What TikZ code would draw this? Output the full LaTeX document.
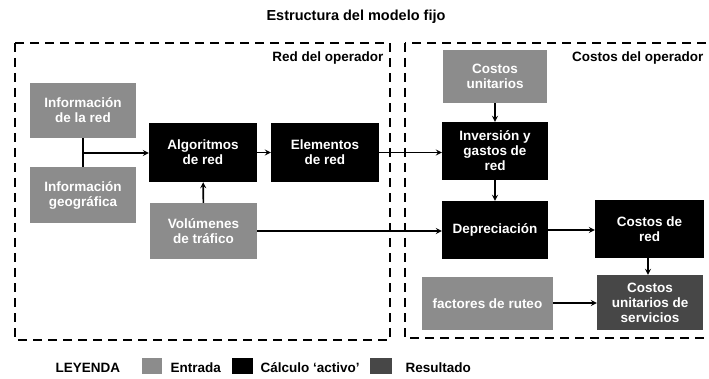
\documentclass[tikz,border=0pt]{standalone}
\usepackage{fontspec}
\setmainfont{Liberation Sans}
\tikzset{>=stealth}
\usetikzlibrary{positioning}
\colorlet{inputColor}{black!45}
\colorlet{resultColor}{black!72}
\colorlet{calcColor}{black}
\tikzset{
  inbox/.style={fill=inputColor,text=white,align=center,inner sep=0pt},
  calcbox/.style={fill=calcColor,text=white,align=center,inner sep=0pt},
  resbox/.style={fill=resultColor,text=white,align=center,inner sep=0pt},
  flow/.style={->,line width=1.6pt},
  zone/.style={line width=2.2pt,dash pattern=on 9pt off 6pt}
}

\begin{document}
\begin{tikzpicture}[x=1pt,y=-1pt,font=\bfseries\fontsize{13.5}{15}\selectfont]
	\useasboundingbox (0,0) rectangle (709,379);
	\node[font=\bfseries\fontsize{14.5}{16}\selectfont] (title) at (356,17) {Estructura del modelo fijo};
	% zonas
	\draw[zone] (15,43) rectangle (390,340);
	\draw[zone] (405,43) rectangle (718,338);
	\node[anchor=east] (red) at (387,58) {Red del operador};
	\node[anchor=east] (cost) at (707,58) {Costos del operador};
	
	\node[inbox,minimum width=106pt,minimum height=55pt] (infored) at (83,110.5) {Información\\de la red};
	\node[inbox,minimum width=106pt,minimum height=56pt] (infogeo) at (83,195) {Información\\geográfica};
	\node[calcbox,minimum width=108pt,minimum height=59pt] (algo) at (203,152.5) {Algoritmos\\de red};
	\node[calcbox,minimum width=108pt,minimum height=59pt] (elem) at (325,152.5) {Elementos\\de red};
	\node[inbox,minimum width=107pt,minimum height=56pt] (volum) at (203.5,231) {Volúmenes\\de tráfico};
	\node[inbox,minimum width=104pt,minimum height=53pt] (cunit) at (495,76.5) {Costos\\unitarios};
	\node[calcbox,minimum width=106pt,minimum height=58pt] (inver) at (495,151) {Inversión y\\gastos de\\red};
	\node[calcbox,minimum width=106pt,minimum height=58pt] (deprec) at (495,230) {Depreciación};
	\node[calcbox,minimum width=109pt,minimum height=58pt] (costred) at (649.5,229) {Costos de\\red};
	\node[inbox,minimum width=131pt,minimum height=53pt] (factor) at (487.5,303.5) {factores de ruteo};
	\node[resbox,minimum width=106pt,minimum height=55pt] (cuserv) at (650,302.5) {Costos\\unitarios de\\servicios};
	
	\coordinate (j) at (83,153);
	\draw[line width=1.6pt] (infored.south) -- (infogeo.north);
	\draw[flow] (j) -- (algo.west |- j);
	\draw[flow] (algo) -- (elem);
	\draw[flow] (elem.east) -- (elem.east -| inver.west);
	\draw[flow] (volum) -- (algo);
	\draw[flow] (volum.east) -- (volum.east -| deprec.west);
	\draw[flow] (cunit) -- (inver);
	\draw[flow] (inver) -- (deprec);
	\draw[flow] (deprec.east) -- (deprec.east -| costred.west);
	\draw[flow] (costred.south -| 648,0) -- (cuserv.north -| 648,0);
	\draw[flow] (factor.east |- 0,303) -- (cuserv.west |- 0,303);
	
	% leyenda
	\node[anchor=base west] (ley) at (52,372) {LEYENDA};
	\node[inbox,minimum width=20pt,minimum height=16pt] (swin) at (152,366) {};
	\node[anchor=base west] (txin) at (167,372) {Entrada};
	\node[calcbox,minimum width=21pt,minimum height=16pt] (swcalc) at (242.5,366) {};
	\node[anchor=base west] (txcalc) at (257,372) {Cálculo ‘activo’};
	\node[resbox,minimum width=22pt,minimum height=16pt] (swres) at (381,366) {};
	\node[anchor=base west] (txres) at (402,372) {Resultado};
\end{tikzpicture}
\end{document}
